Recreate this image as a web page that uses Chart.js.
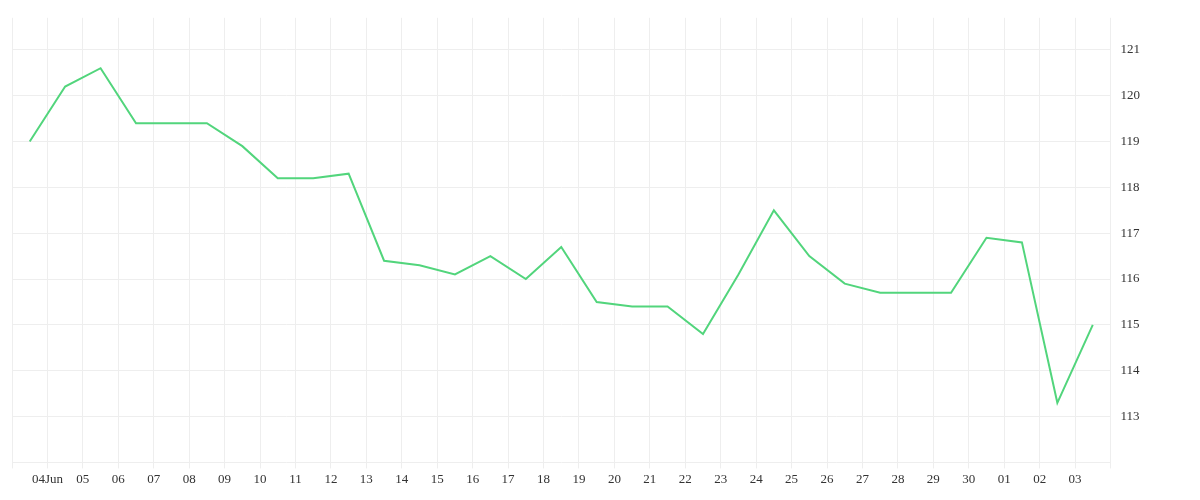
<!DOCTYPE html>
<html>
<head>
<meta charset="utf-8">
<script src="https://cdn.jsdelivr.net/npm/chart.js@4/dist/chart.umd.min.js"></script>
<style>
  html, body { margin: 0; padding: 0; background: #fff; }
  #wrap { width: 1200px; height: 500px; }
</style>
</head>
<body>
<div id="wrap"><canvas id="chart"></canvas></div>
<script>
// one tick label per day, gridlines sit between the daily points
const dayLabels = ["04Jun", "05", "06", "07", "08", "09", "10", "11", "12", "13", "14", "15", "16", "17", "18",
  "19", "20", "21", "22", "23", "24", "25", "26", "27", "28", "29", "30", "01", "02", "03"];
const prices = [119.0, 120.2, 120.6, 119.4, 119.4, 119.4, 118.9, 118.2, 118.2, 118.3, 116.4, 116.3, 116.1, 116.5,
  116.0, 116.7, 115.5, 115.4, 115.4, 114.8, 116.1, 117.5, 116.5, 115.9, 115.7, 115.7, 115.7, 116.9, 116.8, 113.3, 115.0];

const points = prices.map((v, i) => ({ x: i, y: v }));
const font = { family: "Liberation Serif", size: 13 };

new Chart(document.getElementById("chart").getContext("2d"), {
  type: "line",
  data: {
    datasets: [{
      data: points,
      borderColor: "#52d57c",
      borderWidth: 2,
      pointRadius: 0,
      tension: 0,
      fill: false,
    }],
  },
  options: {
    responsive: true,
    maintainAspectRatio: false,
    animation: false,
    layout: { padding: { top: 7, left: 12, right: 50, bottom: 10 } },
    plugins: { legend: { display: false }, tooltip: { enabled: false } },
    scales: {
      x: {
        type: "linear",
        min: -0.5,
        max: prices.length - 0.5,
        afterBuildTicks: (axis) => {
          const t = [];
          for (let k = -0.5; k <= prices.length - 0.5; k += 1) t.push({ value: k });
          axis.ticks = t;
        },
        ticks: {
          color: "#333",
          font: font,
          maxRotation: 0,
          autoSkip: false,
          callback: (value) => {
            const idx = Math.round(value - 0.5);
            return dayLabels[idx] !== undefined ? dayLabels[idx] : "";
          },
        },
        grid: { color: "#eeeeee", tickLength: 6 },
        border: { display: false },
      },
      y: {
        position: "right",
        min: 112,
        max: 121.7,
        afterBuildTicks: (axis) => {
          const t = [];
          for (let v = 112; v <= 121; v++) t.push({ value: v });
          axis.ticks = t;
        },
        ticks: {
          color: "#333",
          font: font,
          padding: 10,
          callback: (value) => (value === 112 ? "" : value),
        },
        grid: { color: "#eeeeee", drawTicks: false },
        border: { display: false },
      },
    },
  },
});
</script>
</body>
</html>
